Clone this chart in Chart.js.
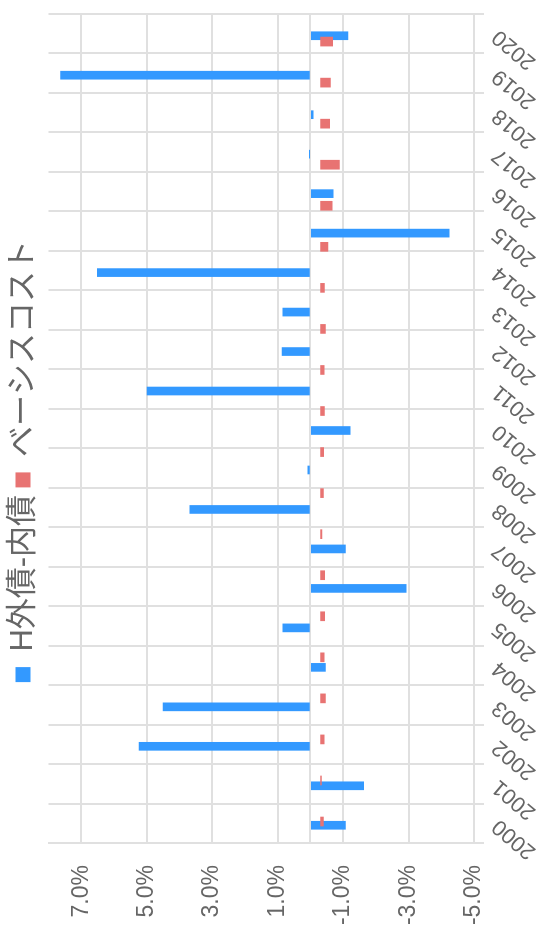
<!DOCTYPE html>
<html>
<head>
<meta charset="utf-8">
<script src="https://cdn.jsdelivr.net/npm/chart.js@4.4.1/dist/chart.umd.min.js"></script>
<style>
html, body { margin: 0; padding: 0; background: #fff; overflow: hidden; }
#wrap { position: absolute; left: 0; top: 0; width: 930px; height: 540px; transform-origin: 0 0; transform: translateY(930px) rotate(-90deg); }
</style>
</head>
<body>
<div id="wrap"><canvas id="chart" width="930" height="540"></canvas></div>
<script>
var years = ['2000', '2001', '2002', '2003', '2004', '2005', '2006', '2007', '2008', '2009', '2010',
             '2011', '2012', '2013', '2014', '2015', '2016', '2017', '2018', '2019', '2020'];
// H外債-内債 (%), 2000 -> 2020
var spread = [-1.07, -1.63, 5.23, 4.50, -0.46, 0.84, -2.93, -1.07, 3.68, 0.08, -1.22,
              4.99, 0.86, 0.84, 6.51, -4.24, -0.70, 0.02, -0.09, 7.63, -1.15];
// ベーシスコスト (%), 20 points
var basisCost = [-0.09, -0.03, -0.11, -0.15, -0.11, -0.13, -0.13, -0.04, -0.09, -0.10,
                 -0.12, -0.11, -0.15, -0.12, -0.23, -0.36, -0.58, -0.28, -0.30, -0.37];
var yTicks = [-5, -3, -1, 1, 3, 5, 7];

Chart.defaults.font.family = "Arial, 'Liberation Sans', 'Noto Sans CJK JP', sans-serif";
Chart.defaults.color = '#666';

var gridColor = '#e0e0e0';

var ctx = document.getElementById('chart').getContext('2d');
var myChart = new Chart(ctx, {
    type: 'bar',
    data: {
        labels: years,
        datasets: [{
            label: 'ベーシスコスト',
            data: basisCost.map(function(v, i) { return {x: i, y: v}; }),
            xAxisID: 'xRed',
            yAxisID: 'yRed',
            backgroundColor: '#e87372',
            barThickness: 9
        }, {
            label: 'H外債-内債',
            data: spread.map(function(v, i) { return {x: i, y: v}; }),
            xAxisID: 'xBlue',
            yAxisID: 'y',
            backgroundColor: '#3399ff',
            barThickness: 8
        }]
    },
    options: {
        responsive: false,
        animation: false,
        devicePixelRatio: 1,
        // legend sits a bit off-centre, right edge of the plot is held by the x axis padding
        layout: { padding: { left: 5, right: -3 } },
        plugins: {
            legend: {
                reverse: true,
                labels: { boxWidth: 15, boxHeight: 15, padding: 7.5, font: { size: 31 }, color: '#666' }
            },
            tooltip: { enabled: false }
        },
        scales: {
            x: {
                type: 'category',
                offset: true,
                grid: { offset: true, color: gridColor, lineWidth: 2, tickLength: 10 },
                border: { color: gridColor, width: 2 },
                ticks: { font: { size: 22 }, minRotation: 50, maxRotation: 50, autoSkip: false },
                afterFit: function(scale) {
                    scale.height = 66;
                    scale.paddingRight = 14;
                }
            },
            xBlue: { type: 'linear', display: false, offset: false, min: -0.348, max: 20.652 },
            xRed: { type: 'linear', display: false, offset: false, min: -0.633, max: 19.562 },
            y: {
                min: -5,
                max: 8,
                border: { color: gridColor, width: 2 },
                grid: {
                    drawTicks: false,
                    lineWidth: 2,
                    color: function(c) {
                        var v = c.tick ? c.tick.value : null;
                        return (yTicks.indexOf(v) >= 0 || v === 0) ? gridColor : 'rgba(0,0,0,0)';
                    }
                },
                ticks: {
                    stepSize: 1,
                    autoSkip: false,
                    padding: 22,
                    font: { size: 23 },
                    callback: function(value) {
                        return yTicks.indexOf(value) >= 0 ? value.toFixed(1) + '%' : '';
                    }
                },
                afterFit: function(scale) { scale.width = 82; }
            },
            yRed: { display: false, min: -4.69, max: 8.31 }
        }
    }
});
</script>
</body>
</html>
